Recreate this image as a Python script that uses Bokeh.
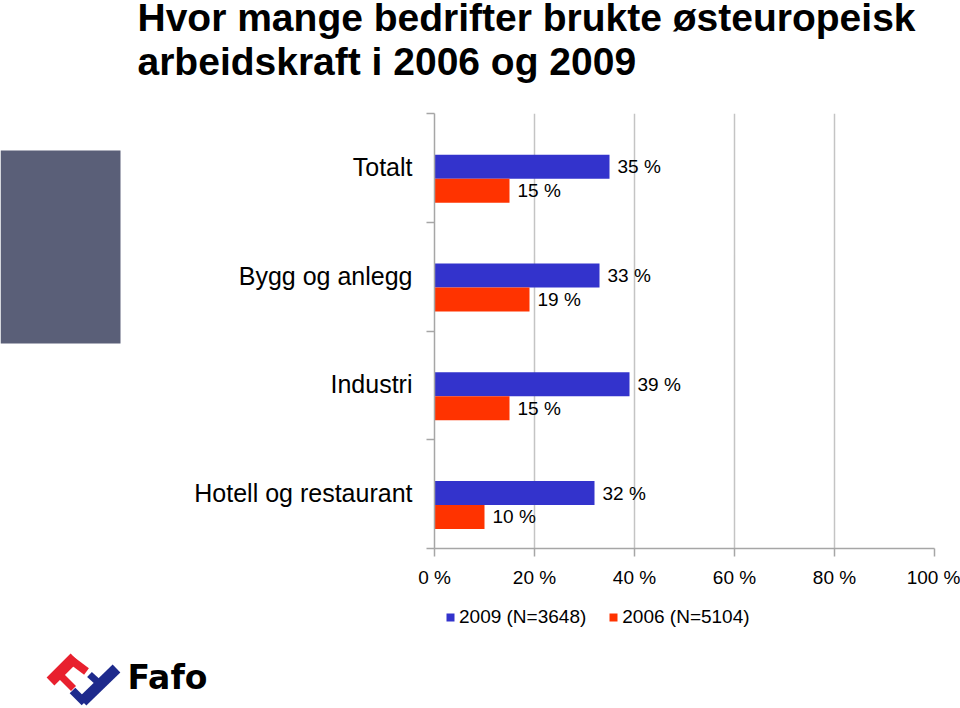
from bokeh.plotting import figure
from bokeh.layouts import column, row
from bokeh.models import (Range1d, FixedTicker, Legend, LegendItem,
                          ColumnDataSource, CustomJSTickFormatter)
from bokeh.embed import file_html
from bokeh.resources import INLINE
from bokeh.core.properties import value
import math

# ---------------- data ----------------
categories = ["Totalt", "Bygg og anlegg", "Industri", "Hotell og restaurant"]
share_2009 = [35, 33, 39, 32]
share_2006 = [15, 19, 15, 10]
series_names = ["2009 (N=3648)", "2006 (N=5104)"]
x_ticks = [0, 20, 40, 60, 80, 100]
title_lines = ["Hvor mange bedrifter brukte østeuropeisk", "arbeidskraft i 2006 og 2009"]
logo_text = "Fafo"

# ---------------- style ----------------
BLUE = "#3333CC"
RED = "#FF3300"
GRAY = "#A6A6A6"
GRID = "#C4C4C4"
FONT = "Liberation Sans"
W = 960
TOP_H = 100
FRAME_TOP, FRAME_H, FRAME_BOTTOM_PAD = 13, 435, 47
MID_H = FRAME_TOP + FRAME_H + FRAME_BOTTOM_PAD
BOT_H = 708 - TOP_H - MID_H
LEFT_W = 130
TEXT_SHIFT = 13  # correction for where the glyph text baseline lands


def blank(width, height, top_y, **kw):
    # plain drawing surface; y is the negated page row so ranges stay ascending
    f = figure(width=width, height=height, output_backend="svg", toolbar_location=None,
               x_range=Range1d(0, width), y_range=Range1d(-(top_y + height), -top_y),
               x_axis_location=None, y_axis_location=None, min_border=0, **kw)
    f.outline_line_color = None
    f.grid.grid_line_color = None
    f.background_fill_color = "white"
    f.border_fill_color = "white"
    return f


# ---------------- title ----------------
top = blank(W, TOP_H, 0)
top.text(x=[137, 137], y=[-(30 - TEXT_SHIFT), -(74 - TEXT_SHIFT)], text=title_lines,
         text_font=value(FONT), text_font_size="39px", text_font_style="bold",
         text_baseline="alphabetic", text_align="left", text_color="black")

# ---------------- left decoration (frame aligned with main chart) ----------------
left = figure(frame_width=LEFT_W, frame_height=FRAME_H, output_backend="svg",
              toolbar_location=None, x_range=Range1d(0, LEFT_W),
              y_range=Range1d(-(TOP_H + FRAME_TOP + FRAME_H), -(TOP_H + FRAME_TOP)),
              x_axis_location=None, y_axis_location=None,
              min_border_left=0, min_border_right=0,
              min_border_top=FRAME_TOP, min_border_bottom=FRAME_BOTTOM_PAD)
left.outline_line_color = None
left.grid.grid_line_color = None
left.quad(left=[0], right=[120], bottom=[-343], top=[-150],
          fill_color="#5A5F78", line_color=None)

# ---------------- main chart ----------------
idx = list(range(len(categories)))
y09 = [i + 0.49 for i in idx]
y06 = [i + 0.71 for i in idx]
BAR_H = 0.22

p = figure(frame_width=500, frame_height=FRAME_H, output_backend="svg", toolbar_location=None,
           x_range=Range1d(0, 100), y_range=Range1d(len(categories), 0),
           min_border_left=434 - LEFT_W, min_border_right=26, min_border_top=FRAME_TOP,
           min_border_bottom=FRAME_BOTTOM_PAD)
p.outline_line_color = None
p.background_fill_color = "white"
p.border_fill_color = "white"

src09 = ColumnDataSource(dict(y=y09, right=share_2009, label=[f"{v} %" for v in share_2009]))
src06 = ColumnDataSource(dict(y=y06, right=share_2006, label=[f"{v} %" for v in share_2006]))

r09 = p.hbar(y="y", left=0, right="right", height=BAR_H, source=src09,
             fill_color=BLUE, line_color=None)
r06 = p.hbar(y="y", left=0, right="right", height=BAR_H, source=src06,
             fill_color=RED, line_color=None)

for src in (src09, src06):
    p.text(x="right", y="y", text="label", source=src, x_offset=8,
           text_baseline="middle", text_align="left", text_font=value(FONT),
           text_font_size="19px", text_color="black")

xa = p.xaxis[0]
xa.ticker = FixedTicker(ticks=x_ticks)
xa.formatter = CustomJSTickFormatter(code="return tick.toFixed(0) + ' %';")
xa.axis_line_color = GRAY
xa.axis_line_width = 1.5
xa.major_tick_line_color = GRAY
xa.major_tick_line_width = 1.5
xa.major_tick_out = 8
xa.major_tick_in = 0
xa.minor_tick_line_color = None
xa.major_label_text_font = FONT
xa.major_label_text_font_size = "19px"
xa.major_label_text_color = "black"
xa.major_label_standoff = 10

ya = p.yaxis[0]
ya.ticker = FixedTicker(ticks=y09, minor_ticks=list(range(len(categories) + 1)))
ya.formatter = CustomJSTickFormatter(args=dict(cats=categories),
                                     code="return cats[Math.floor(tick)];")
ya.axis_line_color = GRAY
ya.axis_line_width = 1.5
ya.major_tick_out = 0
ya.major_tick_in = 0
ya.major_tick_line_color = None
ya.minor_tick_out = 8
ya.minor_tick_in = 0
ya.minor_tick_line_color = GRAY
ya.minor_tick_line_width = 1.5
ya.major_label_text_font = FONT
ya.major_label_text_font_size = "25px"
ya.major_label_text_color = "black"
ya.major_label_standoff = 14

p.xgrid.grid_line_color = GRID
p.xgrid.grid_line_width = 1.5
p.ygrid.grid_line_color = None

# ---------------- legend + logo strip ----------------
bot = blank(W, BOT_H, TOP_H + MID_H)
# legend swatches: the series' own sources, drawn with zero width so nothing shows here
k09 = bot.hbar(y="y", left="right", right="right", height=BAR_H, source=src09,
               fill_color=BLUE, line_color=None)
k06 = bot.hbar(y="y", left="right", right="right", height=BAR_H, source=src06,
               fill_color=RED, line_color=None)
legend = Legend(items=[LegendItem(label=series_names[0], renderers=[k09]),
                       LegendItem(label=series_names[1], renderers=[k06])],
                orientation="horizontal", location=(445, 80),
                glyph_width=10, glyph_height=10, label_standoff=4, spacing=22,
                padding=0, margin=0, border_line_color=None, background_fill_alpha=0,
                label_text_font=FONT, label_text_font_size="19px", label_text_color="black")
bot.add_layout(legend, "center")


def band(x0, y0, x1, y1, t):
    dx, dy = x1 - x0, y1 - y0
    L = math.hypot(dx, dy)
    nx, ny = -dy / L * t / 2, dx / L * t / 2
    return ([x0 + nx, x1 + nx, x1 - nx, x0 - nx],
            [-(y0 + ny), -(y1 + ny), -(y1 - ny), -(y0 - ny)])


LOGO_RED = "#E8202E"
LOGO_BLUE = "#1E2A8C"
logo_parts = [
    ((50, 681, 74, 657, 11), LOGO_RED),
    ((70, 659, 86, 671, 8), LOGO_RED),
    ((58, 673, 73, 688, 7), LOGO_RED),
    ((82, 701, 116, 668, 11), LOGO_BLUE),
    ((84, 702, 72, 690, 8), LOGO_BLUE),
    ((100, 684, 89, 674, 7), LOGO_BLUE),
]
lx, ly, lc = [], [], []
for (x0, y0, x1, y1, t), c in logo_parts:
    xs, ys = band(x0, y0, x1, y1, t)
    lx.append(xs)
    ly.append(ys)
    lc.append(c)
bot.patches(xs=lx, ys=ly, fill_color=lc, line_color=None)
bot.text(x=[127], y=[-(687 - 10)], text=[logo_text], text_font=value("DejaVu Sans"),
         text_font_size="33px", text_font_style="bold", text_baseline="alphabetic",
         text_align="left", text_color="black")

layout = column(top, row(left, p), bot)
open("out.html", "w").write(file_html(layout, INLINE))
